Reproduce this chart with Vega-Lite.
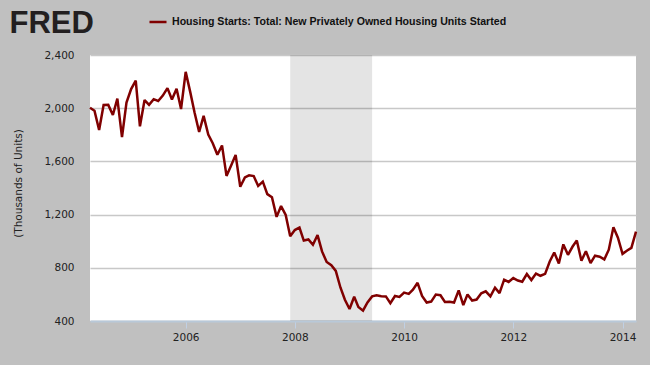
{
  "$schema": "https://vega.github.io/schema/vega-lite/v6.json",
  "width": 546,
  "height": 266,
  "autosize": "none",
  "padding": {"left": 90, "top": 55, "right": 14, "bottom": 44},
  "background": "#c0c0c0",
  "config": {
    "view": {"fill": "white", "stroke": null},
    "axis": {
      "labelFont": "DejaVu Sans",
      "labelFontSize": 10.5,
      "labelColor": "#222222",
      "titleFont": "DejaVu Sans",
      "titleFontSize": 10.5,
      "titleFontWeight": "normal",
      "titleColor": "#222222"
    }
  },
  "resolve": {"axis": {"x": "independent"}},
  "datasets": {
    "recession": [{"start": "2007-12-01", "end": "2009-06-01"}],
    "houst": [
      {"date": "2004-04-01", "value": 2003, "series": "Housing Starts: Total: New Privately Owned Housing Units Started"},
      {"date": "2004-05-01", "value": 1981, "series": "Housing Starts: Total: New Privately Owned Housing Units Started"},
      {"date": "2004-06-01", "value": 1836, "series": "Housing Starts: Total: New Privately Owned Housing Units Started"},
      {"date": "2004-07-01", "value": 2024, "series": "Housing Starts: Total: New Privately Owned Housing Units Started"},
      {"date": "2004-08-01", "value": 2025, "series": "Housing Starts: Total: New Privately Owned Housing Units Started"},
      {"date": "2004-09-01", "value": 1949, "series": "Housing Starts: Total: New Privately Owned Housing Units Started"},
      {"date": "2004-10-01", "value": 2072, "series": "Housing Starts: Total: New Privately Owned Housing Units Started"},
      {"date": "2004-11-01", "value": 1782, "series": "Housing Starts: Total: New Privately Owned Housing Units Started"},
      {"date": "2004-12-01", "value": 2042, "series": "Housing Starts: Total: New Privately Owned Housing Units Started"},
      {"date": "2005-01-01", "value": 2144, "series": "Housing Starts: Total: New Privately Owned Housing Units Started"},
      {"date": "2005-02-01", "value": 2207, "series": "Housing Starts: Total: New Privately Owned Housing Units Started"},
      {"date": "2005-03-01", "value": 1864, "series": "Housing Starts: Total: New Privately Owned Housing Units Started"},
      {"date": "2005-04-01", "value": 2061, "series": "Housing Starts: Total: New Privately Owned Housing Units Started"},
      {"date": "2005-05-01", "value": 2025, "series": "Housing Starts: Total: New Privately Owned Housing Units Started"},
      {"date": "2005-06-01", "value": 2068, "series": "Housing Starts: Total: New Privately Owned Housing Units Started"},
      {"date": "2005-07-01", "value": 2054, "series": "Housing Starts: Total: New Privately Owned Housing Units Started"},
      {"date": "2005-08-01", "value": 2095, "series": "Housing Starts: Total: New Privately Owned Housing Units Started"},
      {"date": "2005-09-01", "value": 2151, "series": "Housing Starts: Total: New Privately Owned Housing Units Started"},
      {"date": "2005-10-01", "value": 2065, "series": "Housing Starts: Total: New Privately Owned Housing Units Started"},
      {"date": "2005-11-01", "value": 2147, "series": "Housing Starts: Total: New Privately Owned Housing Units Started"},
      {"date": "2005-12-01", "value": 1994, "series": "Housing Starts: Total: New Privately Owned Housing Units Started"},
      {"date": "2006-01-01", "value": 2273, "series": "Housing Starts: Total: New Privately Owned Housing Units Started"},
      {"date": "2006-02-01", "value": 2119, "series": "Housing Starts: Total: New Privately Owned Housing Units Started"},
      {"date": "2006-03-01", "value": 1969, "series": "Housing Starts: Total: New Privately Owned Housing Units Started"},
      {"date": "2006-04-01", "value": 1821, "series": "Housing Starts: Total: New Privately Owned Housing Units Started"},
      {"date": "2006-05-01", "value": 1942, "series": "Housing Starts: Total: New Privately Owned Housing Units Started"},
      {"date": "2006-06-01", "value": 1802, "series": "Housing Starts: Total: New Privately Owned Housing Units Started"},
      {"date": "2006-07-01", "value": 1737, "series": "Housing Starts: Total: New Privately Owned Housing Units Started"},
      {"date": "2006-08-01", "value": 1650, "series": "Housing Starts: Total: New Privately Owned Housing Units Started"},
      {"date": "2006-09-01", "value": 1720, "series": "Housing Starts: Total: New Privately Owned Housing Units Started"},
      {"date": "2006-10-01", "value": 1491, "series": "Housing Starts: Total: New Privately Owned Housing Units Started"},
      {"date": "2006-11-01", "value": 1570, "series": "Housing Starts: Total: New Privately Owned Housing Units Started"},
      {"date": "2006-12-01", "value": 1649, "series": "Housing Starts: Total: New Privately Owned Housing Units Started"},
      {"date": "2007-01-01", "value": 1409, "series": "Housing Starts: Total: New Privately Owned Housing Units Started"},
      {"date": "2007-02-01", "value": 1480, "series": "Housing Starts: Total: New Privately Owned Housing Units Started"},
      {"date": "2007-03-01", "value": 1495, "series": "Housing Starts: Total: New Privately Owned Housing Units Started"},
      {"date": "2007-04-01", "value": 1490, "series": "Housing Starts: Total: New Privately Owned Housing Units Started"},
      {"date": "2007-05-01", "value": 1415, "series": "Housing Starts: Total: New Privately Owned Housing Units Started"},
      {"date": "2007-06-01", "value": 1448, "series": "Housing Starts: Total: New Privately Owned Housing Units Started"},
      {"date": "2007-07-01", "value": 1354, "series": "Housing Starts: Total: New Privately Owned Housing Units Started"},
      {"date": "2007-08-01", "value": 1330, "series": "Housing Starts: Total: New Privately Owned Housing Units Started"},
      {"date": "2007-09-01", "value": 1183, "series": "Housing Starts: Total: New Privately Owned Housing Units Started"},
      {"date": "2007-10-01", "value": 1264, "series": "Housing Starts: Total: New Privately Owned Housing Units Started"},
      {"date": "2007-11-01", "value": 1197, "series": "Housing Starts: Total: New Privately Owned Housing Units Started"},
      {"date": "2007-12-01", "value": 1037, "series": "Housing Starts: Total: New Privately Owned Housing Units Started"},
      {"date": "2008-01-01", "value": 1084, "series": "Housing Starts: Total: New Privately Owned Housing Units Started"},
      {"date": "2008-02-01", "value": 1103, "series": "Housing Starts: Total: New Privately Owned Housing Units Started"},
      {"date": "2008-03-01", "value": 1005, "series": "Housing Starts: Total: New Privately Owned Housing Units Started"},
      {"date": "2008-04-01", "value": 1013, "series": "Housing Starts: Total: New Privately Owned Housing Units Started"},
      {"date": "2008-05-01", "value": 973, "series": "Housing Starts: Total: New Privately Owned Housing Units Started"},
      {"date": "2008-06-01", "value": 1046, "series": "Housing Starts: Total: New Privately Owned Housing Units Started"},
      {"date": "2008-07-01", "value": 923, "series": "Housing Starts: Total: New Privately Owned Housing Units Started"},
      {"date": "2008-08-01", "value": 844, "series": "Housing Starts: Total: New Privately Owned Housing Units Started"},
      {"date": "2008-09-01", "value": 820, "series": "Housing Starts: Total: New Privately Owned Housing Units Started"},
      {"date": "2008-10-01", "value": 777, "series": "Housing Starts: Total: New Privately Owned Housing Units Started"},
      {"date": "2008-11-01", "value": 652, "series": "Housing Starts: Total: New Privately Owned Housing Units Started"},
      {"date": "2008-12-01", "value": 560, "series": "Housing Starts: Total: New Privately Owned Housing Units Started"},
      {"date": "2009-01-01", "value": 490, "series": "Housing Starts: Total: New Privately Owned Housing Units Started"},
      {"date": "2009-02-01", "value": 582, "series": "Housing Starts: Total: New Privately Owned Housing Units Started"},
      {"date": "2009-03-01", "value": 505, "series": "Housing Starts: Total: New Privately Owned Housing Units Started"},
      {"date": "2009-04-01", "value": 478, "series": "Housing Starts: Total: New Privately Owned Housing Units Started"},
      {"date": "2009-05-01", "value": 540, "series": "Housing Starts: Total: New Privately Owned Housing Units Started"},
      {"date": "2009-06-01", "value": 585, "series": "Housing Starts: Total: New Privately Owned Housing Units Started"},
      {"date": "2009-07-01", "value": 594, "series": "Housing Starts: Total: New Privately Owned Housing Units Started"},
      {"date": "2009-08-01", "value": 586, "series": "Housing Starts: Total: New Privately Owned Housing Units Started"},
      {"date": "2009-09-01", "value": 585, "series": "Housing Starts: Total: New Privately Owned Housing Units Started"},
      {"date": "2009-10-01", "value": 534, "series": "Housing Starts: Total: New Privately Owned Housing Units Started"},
      {"date": "2009-11-01", "value": 588, "series": "Housing Starts: Total: New Privately Owned Housing Units Started"},
      {"date": "2009-12-01", "value": 581, "series": "Housing Starts: Total: New Privately Owned Housing Units Started"},
      {"date": "2010-01-01", "value": 614, "series": "Housing Starts: Total: New Privately Owned Housing Units Started"},
      {"date": "2010-02-01", "value": 604, "series": "Housing Starts: Total: New Privately Owned Housing Units Started"},
      {"date": "2010-03-01", "value": 636, "series": "Housing Starts: Total: New Privately Owned Housing Units Started"},
      {"date": "2010-04-01", "value": 687, "series": "Housing Starts: Total: New Privately Owned Housing Units Started"},
      {"date": "2010-05-01", "value": 588, "series": "Housing Starts: Total: New Privately Owned Housing Units Started"},
      {"date": "2010-06-01", "value": 539, "series": "Housing Starts: Total: New Privately Owned Housing Units Started"},
      {"date": "2010-07-01", "value": 546, "series": "Housing Starts: Total: New Privately Owned Housing Units Started"},
      {"date": "2010-08-01", "value": 599, "series": "Housing Starts: Total: New Privately Owned Housing Units Started"},
      {"date": "2010-09-01", "value": 594, "series": "Housing Starts: Total: New Privately Owned Housing Units Started"},
      {"date": "2010-10-01", "value": 543, "series": "Housing Starts: Total: New Privately Owned Housing Units Started"},
      {"date": "2010-11-01", "value": 545, "series": "Housing Starts: Total: New Privately Owned Housing Units Started"},
      {"date": "2010-12-01", "value": 539, "series": "Housing Starts: Total: New Privately Owned Housing Units Started"},
      {"date": "2011-01-01", "value": 630, "series": "Housing Starts: Total: New Privately Owned Housing Units Started"},
      {"date": "2011-02-01", "value": 520, "series": "Housing Starts: Total: New Privately Owned Housing Units Started"},
      {"date": "2011-03-01", "value": 600, "series": "Housing Starts: Total: New Privately Owned Housing Units Started"},
      {"date": "2011-04-01", "value": 554, "series": "Housing Starts: Total: New Privately Owned Housing Units Started"},
      {"date": "2011-05-01", "value": 561, "series": "Housing Starts: Total: New Privately Owned Housing Units Started"},
      {"date": "2011-06-01", "value": 608, "series": "Housing Starts: Total: New Privately Owned Housing Units Started"},
      {"date": "2011-07-01", "value": 623, "series": "Housing Starts: Total: New Privately Owned Housing Units Started"},
      {"date": "2011-08-01", "value": 585, "series": "Housing Starts: Total: New Privately Owned Housing Units Started"},
      {"date": "2011-09-01", "value": 650, "series": "Housing Starts: Total: New Privately Owned Housing Units Started"},
      {"date": "2011-10-01", "value": 610, "series": "Housing Starts: Total: New Privately Owned Housing Units Started"},
      {"date": "2011-11-01", "value": 711, "series": "Housing Starts: Total: New Privately Owned Housing Units Started"},
      {"date": "2011-12-01", "value": 694, "series": "Housing Starts: Total: New Privately Owned Housing Units Started"},
      {"date": "2012-01-01", "value": 723, "series": "Housing Starts: Total: New Privately Owned Housing Units Started"},
      {"date": "2012-02-01", "value": 704, "series": "Housing Starts: Total: New Privately Owned Housing Units Started"},
      {"date": "2012-03-01", "value": 695, "series": "Housing Starts: Total: New Privately Owned Housing Units Started"},
      {"date": "2012-04-01", "value": 753, "series": "Housing Starts: Total: New Privately Owned Housing Units Started"},
      {"date": "2012-05-01", "value": 708, "series": "Housing Starts: Total: New Privately Owned Housing Units Started"},
      {"date": "2012-06-01", "value": 757, "series": "Housing Starts: Total: New Privately Owned Housing Units Started"},
      {"date": "2012-07-01", "value": 740, "series": "Housing Starts: Total: New Privately Owned Housing Units Started"},
      {"date": "2012-08-01", "value": 754, "series": "Housing Starts: Total: New Privately Owned Housing Units Started"},
      {"date": "2012-09-01", "value": 847, "series": "Housing Starts: Total: New Privately Owned Housing Units Started"},
      {"date": "2012-10-01", "value": 915, "series": "Housing Starts: Total: New Privately Owned Housing Units Started"},
      {"date": "2012-11-01", "value": 833, "series": "Housing Starts: Total: New Privately Owned Housing Units Started"},
      {"date": "2012-12-01", "value": 976, "series": "Housing Starts: Total: New Privately Owned Housing Units Started"},
      {"date": "2013-01-01", "value": 898, "series": "Housing Starts: Total: New Privately Owned Housing Units Started"},
      {"date": "2013-02-01", "value": 960, "series": "Housing Starts: Total: New Privately Owned Housing Units Started"},
      {"date": "2013-03-01", "value": 1005, "series": "Housing Starts: Total: New Privately Owned Housing Units Started"},
      {"date": "2013-04-01", "value": 853, "series": "Housing Starts: Total: New Privately Owned Housing Units Started"},
      {"date": "2013-05-01", "value": 925, "series": "Housing Starts: Total: New Privately Owned Housing Units Started"},
      {"date": "2013-06-01", "value": 835, "series": "Housing Starts: Total: New Privately Owned Housing Units Started"},
      {"date": "2013-07-01", "value": 891, "series": "Housing Starts: Total: New Privately Owned Housing Units Started"},
      {"date": "2013-08-01", "value": 883, "series": "Housing Starts: Total: New Privately Owned Housing Units Started"},
      {"date": "2013-09-01", "value": 863, "series": "Housing Starts: Total: New Privately Owned Housing Units Started"},
      {"date": "2013-10-01", "value": 936, "series": "Housing Starts: Total: New Privately Owned Housing Units Started"},
      {"date": "2013-11-01", "value": 1105, "series": "Housing Starts: Total: New Privately Owned Housing Units Started"},
      {"date": "2013-12-01", "value": 1026, "series": "Housing Starts: Total: New Privately Owned Housing Units Started"},
      {"date": "2014-01-01", "value": 905, "series": "Housing Starts: Total: New Privately Owned Housing Units Started"},
      {"date": "2014-02-01", "value": 930, "series": "Housing Starts: Total: New Privately Owned Housing Units Started"},
      {"date": "2014-03-01", "value": 950, "series": "Housing Starts: Total: New Privately Owned Housing Units Started"},
      {"date": "2014-04-01", "value": 1072, "series": "Housing Starts: Total: New Privately Owned Housing Units Started"}
    ]
  },
  "layer": [
    {
      "data": {"name": "recession"},
      "mark": {"type": "rect", "color": "#000000", "opacity": 0.105},
      "encoding": {
        "x": {
          "field": "start",
          "type": "temporal",
          "title": "FRED",
          "scale": {"domain": ["2004-04-01", "2014-04-01"]},
          "axis": {
            "orient": "top",
            "labels": false,
            "ticks": false,
            "domain": false,
            "grid": false,
            "title": "FRED",
            "titleFont": "Liberation Sans",
            "titleFontSize": 31,
            "titleFontWeight": "bold",
            "titleColor": "#231f20",
            "titleX": -81,
            "titleY": -23,
            "titleAngle": 0,
            "titleAlign": "left",
            "titleBaseline": "alphabetic"
          }
        },
        "x2": {"field": "end"}
      }
    },
    {
      "data": {"name": "houst"},
      "mark": {"type": "line", "strokeWidth": 2.5, "strokeJoin": "miter", "strokeMiterLimit": 2},
      "encoding": {
        "x": {
          "field": "date",
          "type": "temporal",
          "title": null,
          "scale": {"domain": ["2004-04-01", "2014-04-01"]},
          "axis": {
            "orient": "bottom",
            "values": [{"year": 2006}, {"year": 2008}, {"year": 2010}, {"year": 2012}, {"year": 2014}],
            "format": "%Y",
            "grid": false,
            "domainColor": "#b8c8d8",
            "domainWidth": 2,
            "tickColor": "#c0d0e4",
            "tickSize": 7,
            "tickWidth": 1,
            "labelPadding": 4,
            "labelFlush": false
          }
        },
        "y": {
          "field": "value",
          "type": "quantitative",
          "title": "(Thousands of Units)",
          "scale": {"domain": [400, 2400], "nice": false, "zero": false},
          "axis": {
            "values": [400, 800, 1200, 1600, 2000, 2400],
            "format": ",.0f",
            "domain": false,
            "ticks": false,
            "labelPadding": 16,
            "gridColor": "#c8c8c8",
            "gridWidth": 1.5,
            "titleX": -72,
            "titleY": 128,
            "titleAngle": -90,
            "titleAlign": "center",
            "titleBaseline": "middle"
          }
        },
        "color": {
          "field": "series",
          "type": "nominal",
          "scale": {"range": ["#800000"]},
          "legend": {
            "orient": "none",
            "legendX": 58,
            "legendY": -43,
            "title": null,
            "symbolType": "stroke",
            "symbolSize": 290,
            "symbolStrokeWidth": 2.5,
            "labelFont": "Liberation Sans",
            "labelFontSize": 10.6,
            "labelFontWeight": "bold",
            "labelColor": "#111111",
            "labelLimit": 600,
            "labelOffset": 4
          }
        }
      }
    }
  ]
}
